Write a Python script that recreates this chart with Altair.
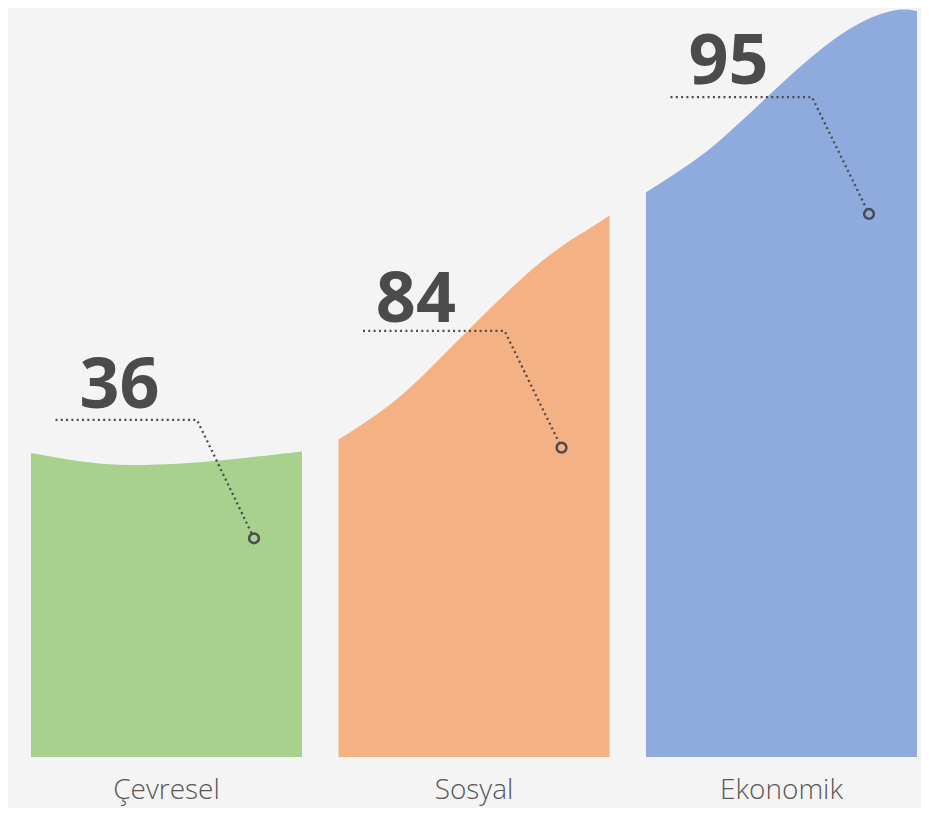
import altair as alt
import pandas as pd

# ---------------- data ----------------
categories = ["Çevresel", "Sosyal", "Ekonomik"]
values = [36, 84, 95]
colors = ["#a9d18e", "#f4b183", "#8faadc"]

# top outline of each shape: position across the bar (0..1) and height (tallest point = 100)
profile_pos = [
    [0.0, 0.132, 0.255, 0.413, 0.624, 0.808, 1.0],
    [0.0, 0.089, 0.215, 0.337, 0.459, 0.585, 0.707, 0.830, 0.956, 1.0],
    [0.0, 0.100, 0.225, 0.347, 0.469, 0.594, 0.716, 0.838, 0.937, 1.0],
]
profile_height = [
    [40.6, 39.7, 39.1, 38.9, 39.3, 40.0, 40.8],
    [42.4, 44.4, 47.6, 51.8, 56.3, 60.8, 65.0, 68.5, 71.2, 72.3],
    [75.4, 77.7, 80.7, 84.7, 88.9, 93.0, 96.6, 99.0, 100.0, 99.6],
]

# callout anchors (height of marker circle, leader line, value label)
marker_height = [29.2, 41.3, 72.5]
leader_height = [45.0, 56.9, 88.1]
label_height = [46.6, 58.1, 89.9]
label_shift = [-0.153, -0.189, -0.172]

# ---------------- layout ----------------
PX_X, PX_Y = 307.5, 7.49   # pixels per unit on x and y
HALF = 0.4407               # half bar width, in category units
LEAD_START, LEAD_ELBOW, LEAD_END = -0.361, 0.0992, 0.2846
MARK_R = 6.0                # px gap left between leader end and marker centre
CAT_LABEL_Y = -5.65
TEXT = "#4b4b4e"

shape_rows, lead_rows, mark_rows, lab_rows, cat_rows = [], [], [], [], []
for i, c in enumerate(categories):
    for f, h in zip(profile_pos[i], profile_height[i]):
        shape_rows.append({"cat": c, "x": i - HALF + 2 * HALF * f, "y": h, "base": 0})
    # shorten the diagonal so it stops at the marker's rim
    dxp = (LEAD_END - LEAD_ELBOW) * PX_X
    dyp = (leader_height[i] - marker_height[i]) * PX_Y
    L = (dxp ** 2 + dyp ** 2) ** 0.5
    end_x = i + LEAD_END - MARK_R * dxp / L / PX_X
    end_y = marker_height[i] + MARK_R * dyp / L / PX_Y
    lead_rows += [
        {"cat": c, "o": 0, "x": i + LEAD_START, "y": leader_height[i]},
        {"cat": c, "o": 1, "x": i + LEAD_ELBOW, "y": leader_height[i]},
        {"cat": c, "o": 2, "x": end_x, "y": end_y},
    ]
    mark_rows.append({"cat": c, "x": i + LEAD_END, "y": marker_height[i]})
    lab_rows.append({"cat": c, "x": i + label_shift[i], "y": label_height[i], "v": str(values[i])})
    cat_rows.append({"cat": c, "x": i, "y": CAT_LABEL_Y})

xs = alt.Scale(domain=[-0.51545, 2.45366], nice=False, zero=False)
ys = alt.Scale(domain=[-6.809, 100], nice=False, zero=False)
X = lambda: alt.X("x:Q", scale=xs, axis=None)
Y = lambda: alt.Y("y:Q", scale=ys, axis=None)

shapes = alt.Chart(pd.DataFrame(shape_rows)).mark_area(interpolate="basis").encode(
    x=X(), y=Y(), y2="base:Q",
    color=alt.Color("cat:N", scale=alt.Scale(domain=categories, range=colors), legend=None),
    detail="cat:N",
)

leaders = alt.Chart(pd.DataFrame(lead_rows)).mark_line(
    color=TEXT, strokeWidth=2.3, strokeDash=[2, 3.3], strokeCap="butt"
).encode(x=X(), y=Y(), detail="cat:N", order="o:Q")

markers = alt.Chart(pd.DataFrame(mark_rows)).mark_point(
    shape="circle", filled=False, color=TEXT, strokeWidth=2.5, size=95, opacity=1
).encode(x=X(), y=Y())

value_labels = alt.Chart(pd.DataFrame(lab_rows)).mark_text(
    font="Open Sans", fontWeight="bold", fontSize=70, color=TEXT,
    align="center", baseline="alphabetic"
).encode(x=X(), y=Y(), text="v:N")

cat_labels = alt.Chart(pd.DataFrame(cat_rows)).mark_text(
    font="Open Sans", fontWeight=300, fontSize=28, color="#585858",
    align="center", baseline="alphabetic"
).encode(x=X(), y=Y(), text="cat:N")

chart = alt.layer(shapes, leaders, markers, value_labels, cat_labels).properties(
    width=913, height=800,
    autosize=alt.AutoSizeParams(type="none"),
    padding=0,
    background="#f4f4f4",
).configure_view(stroke=None)

chart.save("out.html", embed_options={"renderer": "svg", "actions": False})
